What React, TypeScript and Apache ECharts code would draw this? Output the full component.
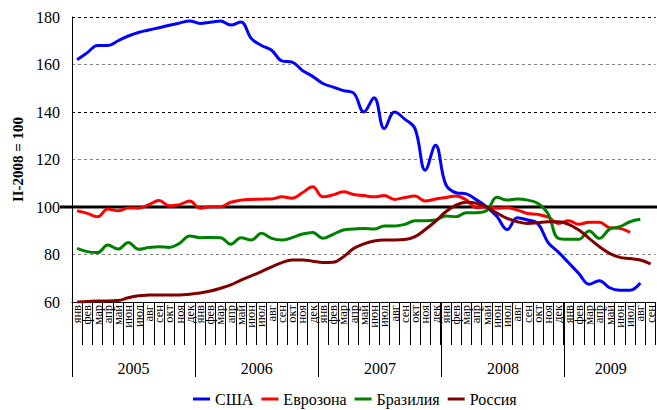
import React, { useEffect, useRef } from "react";
import * as echarts from "echarts";

const monthNames = ["янв", "фев", "мар", "апр", "май", "июн", "июл", "авг", "сен", "окт", "ноя", "дек"];
const years = ["2005", "2006", "2007", "2008", "2009"];
const monthsPerYear = [12, 12, 12, 12, 9];

const seriesNames = ["США", "Еврозона", "Бразилия", "Россия"];
const seriesColors = ["#0000FF", "#FF0000", "#008000", "#800000"];

const usa = [
  162, 165, 168, 168, 170, 172, 173.5, 174.5, 175.5, 176.5, 177.5, 178.3,
  177.3, 177.8, 178.3, 176.6, 177.9, 171, 168, 166, 161.5, 161, 157.5, 155,
  152, 150.5, 149, 148, 140, 146, 133, 140, 137, 133, 115.5, 126,
  109.5, 106, 105.5, 103, 100, 96, 90.5, 95.5, 94.5, 93, 85, 81,
  76.5, 72, 67.5, 69, 66, 65, 65, 68,
];
const eurozone = [
  98.4, 97.3, 95.9, 99.2, 98.4, 99.6, 99.5, 101, 102.7, 100.5, 101, 102.5,
  99.5, 100.1, 100.1, 102, 102.9, 103.2, 103.3, 103.4, 104.3, 103.7, 106, 108.5,
  104.3, 105.1, 106.4, 105.3, 104.8, 104.3, 104.8, 103.2, 104, 104.6, 102.5, 103.4,
  104, 104.6, 103, 99.7, 100, 99.5, 99.7, 98.7, 97.3, 96.9, 95.7, 93.1,
  94.2, 92.7, 93.6, 93.6, 91.3, 91, 89.3,
];
const brazil = [
  82.6, 81.2, 80.8, 84, 82.3, 85.1, 82.2, 82.9, 83.3, 83, 84.7, 87.8,
  87.1, 87.2, 87.1, 84.3, 87.1, 86.1, 88.9, 86.8, 86.1, 87.1, 88.6, 89.3,
  86.8, 88.5, 90.3, 90.7, 91, 90.7, 92, 92, 92.7, 94.2, 94.2, 94.5,
  96.2, 95.9, 97.6, 97.6, 98.5, 104.1, 102.9, 103.4, 102.9, 101.5, 97.1, 86.8,
  86.4, 86.4, 89.9, 86.8, 90.7, 91.7, 93.8, 94.8,
];
const russia = [
  60, 60.2, 60.4, 60.4, 60.6, 61.8, 62.6, 62.9, 63, 63, 63, 63.3,
  63.8, 64.6, 65.8, 67.2, 69.2, 71, 72.8, 74.8, 76.6, 77.7, 77.7, 77.2,
  76.6, 76.7, 79, 82.5, 84.5, 85.7, 86.1, 86.1, 86.3, 87.5, 90.5, 94,
  98, 100.8, 102, 101.6, 100, 97.5, 95.2, 93.8, 93.1, 93.4, 93.8, 93.8,
  92.7, 90.3, 86.8, 83.3, 80.5, 78.8, 78.3, 77.7, 76,
];

const yTicks = { min: 60, max: 180, step: 20 };
const baseLevel = 100;

export default function App() {
  const ref = useRef<HTMLDivElement>(null);

  useEffect(() => {
    if (!ref.current) return;
    const chart = echarts.init(ref.current, undefined, { renderer: "svg" });
    const font = "'Liberation Serif', 'Times New Roman', serif";

    const categories: string[] = [];
    monthsPerYear.forEach((n) => {
      for (let i = 0; i < n; i++) categories.push(monthNames[i]);
    });
    const total = categories.length;
    const yearBounds: number[] = [];
    const yearCenters: number[] = [];
    let acc = 0;
    monthsPerYear.forEach((n) => {
      yearBounds.push(acc);
      yearCenters.push(acc + n / 2);
      acc += n;
    });

    const data = [usa, eurozone, brazil, russia];

    chart.setOption({
      animation: false,
      textStyle: { fontFamily: font },
      grid: [
        { left: 72, right: -3, top: 17, bottom: 108 },
        { left: 72, right: -3, top: 250, bottom: 108 },
      ],
      legend: {
        left: 193,
        top: 391,
        padding: 0,
        icon: "rect",
        itemWidth: 17,
        itemHeight: 3,
        itemGap: 8,
        textStyle: { fontFamily: font, fontSize: 16, color: "#000" },
        data: seriesNames,
      },
      xAxis: [
        {
          type: "category",
          gridIndex: 0,
          data: categories,
          boundaryGap: true,
          axisLine: { show: true, lineStyle: { color: "#000", width: 1 } },
          axisTick: { show: true, interval: 0, length: 43, lineStyle: { color: "#000", width: 1 } },
          axisLabel: {
            interval: 0,
            rotate: 90,
            margin: 3,
            fontSize: 12.5,
            fontFamily: font,
            color: "#000",
          },
          splitLine: { show: false },
        },
        {
          type: "value",
          gridIndex: 1,
          min: 0,
          max: total,
          axisLine: { show: false },
          axisTick: {
            show: true,
            customValues: yearBounds,
            length: 75,
            lineStyle: { color: "#000", width: 1 },
          },
          axisLabel: {
            customValues: yearCenters,
            margin: 58,
            fontSize: 16,
            fontFamily: font,
            color: "#000",
            formatter: (v: number) => {
              const i = yearCenters.indexOf(v);
              return i >= 0 ? years[i] : "";
            },
          },
          splitLine: { show: false },
        },
      ],
      yAxis: [
        {
          type: "value",
          gridIndex: 0,
          min: yTicks.min,
          max: yTicks.max,
          interval: yTicks.step,
          name: "II-2008 = 100",
          nameLocation: "middle",
          nameGap: 46,
          nameTextStyle: { fontFamily: font, fontSize: 15, fontWeight: "bold", color: "#000" },
          axisLine: { show: true, lineStyle: { color: "#000", width: 1 } },
          axisTick: { show: false },
          axisLabel: { fontSize: 16, fontFamily: font, color: "#000", margin: 12 },
          splitLine: {
            show: true,
            lineStyle: { color: ["#000", "#808080"], type: [3, 3], width: 1 },
          },
        },
        {
          type: "value",
          gridIndex: 1,
          show: false,
        },
      ],
      series: seriesNames.map((name, i) => ({
        name,
        type: "line",
        xAxisIndex: 0,
        yAxisIndex: 0,
        data: data[i],
        smooth: 0.4,
        symbol: "none",
        lineStyle: { color: seriesColors[i], width: 3 },
        itemStyle: { color: seriesColors[i] },
        z: 3,
      })),
    });

    const y100 = chart.convertToPixel({ yAxisIndex: 0 }, baseLevel) as number;
    chart.setOption({
      graphic: [
        {
          type: "line",
          z: 1,
          shape: { x1: 60, y1: y100, x2: 660, y2: y100 },
          style: { stroke: "#000", lineWidth: 3 },
        },
      ],
    });

    return () => chart.dispose();
  }, []);

  return (
    <div
      ref={ref}
      style={{ position: "absolute", left: 0, top: 0, width: 657, height: 410, background: "#fff" }}
    />
  );
}
